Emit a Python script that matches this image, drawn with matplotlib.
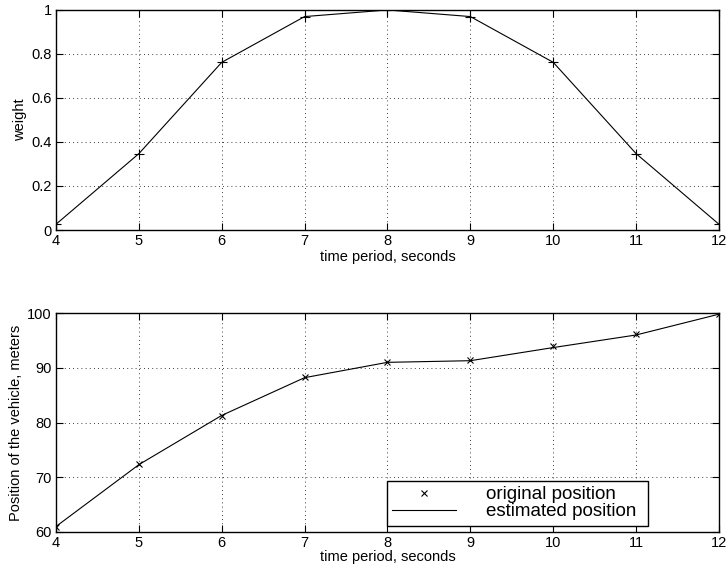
import matplotlib
matplotlib.use("Agg")
import matplotlib.pyplot as plt

plt.rcParams['font.family'] = ['Liberation Sans', 'DejaVu Sans']
plt.rcParams['font.size'] = 10.5

# time axis and smoothing weights
t = [4, 5, 6, 7, 8, 9, 10, 11, 12]
weight = [0.026, 0.347, 0.762, 0.97, 1.0, 0.97, 0.762, 0.347, 0.026]

# vehicle position, measured vs estimated
orig_pos = [61.0, 72.4, 81.2, 88.4, 91.1, 91.4, 94.0, 96.2, 99.8]
est_pos = [61.0, 72.3, 81.3, 88.2, 91.0, 91.3, 93.7, 96.0, 99.8]

weight_ticks = [0, 0.2, 0.4, 0.6, 0.8, 1]
weight_ticklabels = ['0', '0.2', '0.4', '0.6', '0.8', '1']
pos_ticks = [60, 70, 80, 90, 100]


def style_axes(ax):
    ax.tick_params(direction='in', top=True, right=True, length=5, width=0.8,
                   labelsize=10.5, pad=3)
    ax.grid(True, color='black', linestyle=(0, (1, 4)), linewidth=0.6)
    for s in ax.spines.values():
        s.set_linewidth(1.0)


fig = plt.figure(figsize=(7.27, 5.73), dpi=100)

ax1 = fig.add_axes([0.077, 0.5986, 0.912, 0.384])
ax1.plot(t, weight, color='black', linewidth=0.8, marker='+', markersize=7,
         markeredgewidth=0.8)
ax1.set_xlim(4, 12)
ax1.set_ylim(0, 1)
ax1.set_xticks(t)
ax1.set_yticks(weight_ticks)
ax1.set_yticklabels(weight_ticklabels)
ax1.set_xlabel('time period, seconds', labelpad=1)
ax1.set_ylabel('weight', labelpad=3)
style_axes(ax1)

ax2 = fig.add_axes([0.077, 0.0716, 0.912, 0.382])
ax2.plot(t, orig_pos, linestyle='none', color='black', marker='x',
         markersize=5, markeredgewidth=0.8, label='original position')
ax2.plot(t, est_pos, color='black', linewidth=0.8, label='estimated position')
ax2.set_xlim(4, 12)
ax2.set_ylim(60, 100)
ax2.set_xticks(t)
ax2.set_yticks(pos_ticks)
ax2.set_xlabel('time period, seconds', labelpad=0)
ax2.set_ylabel('Position of the vehicle, meters', labelpad=3)
style_axes(ax2)

leg = ax2.legend(loc='lower left', bbox_to_anchor=(0.499, 0.027, 0.394, 0.247),
                 mode='expand', fontsize=13.5, frameon=True, fancybox=False,
                 edgecolor='black', borderaxespad=0, handlelength=3.4,
                 handletextpad=1.6, labelspacing=0.0, borderpad=0.3)
leg.get_frame().set_linewidth(1.0)
leg.get_frame().set_alpha(1)

fig.savefig('out.png', dpi=100)
